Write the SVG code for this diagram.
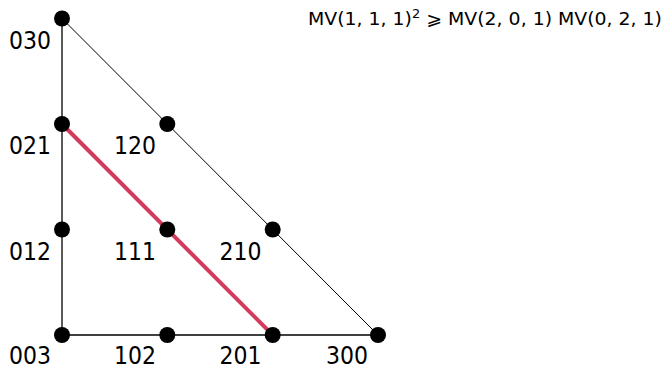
<svg xmlns="http://www.w3.org/2000/svg" width="668" height="369" viewBox="0 0 668 369">
<style>
.lab{font-family:"DejaVu Sans","Liberation Sans",sans-serif;font-size:24px;fill:#000;text-anchor:end}
.dot{fill:#000}
.math{font-family:"DejaVu Sans","Liberation Sans",sans-serif;font-size:17.5px;fill:#000}
</style>
<rect width="668" height="369" fill="#fff"/>
<g id="connectors" fill="none" stroke="#000">
<line x1="62" y1="18.5" x2="62" y2="335" stroke-width="1.3"/>
<line x1="62" y1="335" x2="378" y2="335" stroke-width="1.3"/>
<line x1="62" y1="18.5" x2="378" y2="335" stroke-width="1"/>
<line x1="62" y1="124" x2="272.7" y2="335" stroke="#d33b5c" stroke-width="4"/>
</g>
<g id="n030"><circle class="dot" cx="62" cy="18.5" r="8"/><text class="lab" x="51" y="48.5" textLength="42" lengthAdjust="spacingAndGlyphs">030</text></g>
<g id="n021"><circle class="dot" cx="62" cy="124" r="8"/><text class="lab" x="51" y="154" textLength="42" lengthAdjust="spacingAndGlyphs">021</text></g>
<g id="n120"><circle class="dot" cx="167.3" cy="124" r="8"/><text class="lab" x="156" y="154" textLength="42" lengthAdjust="spacingAndGlyphs">120</text></g>
<g id="n012"><circle class="dot" cx="62" cy="229.5" r="8"/><text class="lab" x="51" y="259.5" textLength="42" lengthAdjust="spacingAndGlyphs">012</text></g>
<g id="n111"><circle class="dot" cx="167.3" cy="229.5" r="8"/><text class="lab" x="156" y="259.5" textLength="42" lengthAdjust="spacingAndGlyphs">111</text></g>
<g id="n210"><circle class="dot" cx="272.7" cy="229.5" r="8"/><text class="lab" x="261.5" y="259.5" textLength="42" lengthAdjust="spacingAndGlyphs">210</text></g>
<g id="n003"><circle class="dot" cx="62" cy="335" r="8"/><text class="lab" x="51" y="364" textLength="42" lengthAdjust="spacingAndGlyphs">003</text></g>
<g id="n102"><circle class="dot" cx="167.3" cy="335" r="8"/><text class="lab" x="156" y="364" textLength="42" lengthAdjust="spacingAndGlyphs">102</text></g>
<g id="n201"><circle class="dot" cx="272.7" cy="335" r="8"/><text class="lab" x="261.5" y="364" textLength="42" lengthAdjust="spacingAndGlyphs">201</text></g>
<g id="n300"><circle class="dot" cx="378" cy="335" r="8"/><text class="lab" x="368" y="364" textLength="42" lengthAdjust="spacingAndGlyphs">300</text></g>
<g id="formula"><text class="math" x="308" y="25" textLength="354" lengthAdjust="spacingAndGlyphs">MV(1, 1, 1)<tspan font-size="12" dy="-7">2</tspan><tspan dy="7"> ⩾ MV(2, 0, 1) MV(0, 2, 1)</tspan></text></g>
</svg>
